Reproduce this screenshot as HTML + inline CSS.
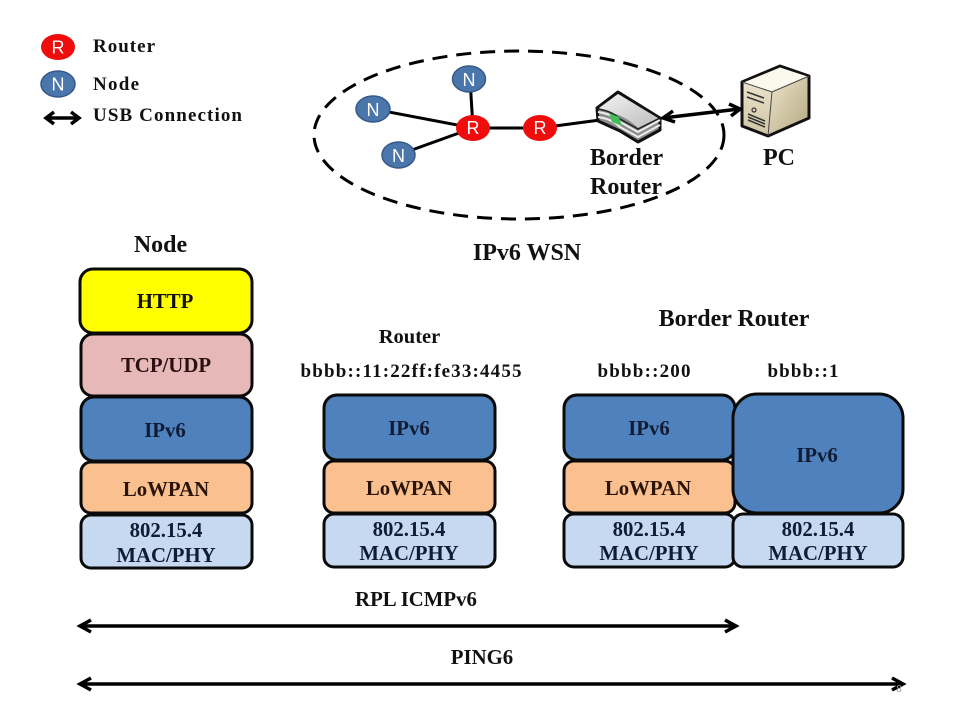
<!DOCTYPE html>
<html><head><meta charset="utf-8"><style>
html,body{margin:0;padding:0;background:#fff}
svg{display:block}
text{font-family:"Liberation Serif",serif;font-weight:bold;fill:#111;text-anchor:middle;font-size:20.8px}
.s{font-family:"Liberation Sans",sans-serif;font-weight:normal;fill:#fff;font-size:18px}
.d{fill:#101c35}
.b{stroke:#0a0a0a;stroke-width:3}
.l{text-anchor:start}
</style></head><body>
<svg width="960" height="720" viewBox="0 0 960 720" xmlns="http://www.w3.org/2000/svg">
<defs>
<linearGradient id="pcf" x1="0" y1="0" x2="0" y2="1"><stop offset="0" stop-color="#f2ecd8"/><stop offset="1" stop-color="#cfc5a3"/></linearGradient>
<linearGradient id="pcs" x1="0" y1="0" x2="1" y2="1"><stop offset="0" stop-color="#ece4cc"/><stop offset="1" stop-color="#b5a981"/></linearGradient>
<linearGradient id="rt" x1="0" y1="0" x2="1" y2="1"><stop offset="0" stop-color="#f4f4f4"/><stop offset="1" stop-color="#bcbcbc"/></linearGradient>
</defs>
<rect width="960" height="720" fill="#fff"/>
<!-- legend -->
<ellipse cx="58" cy="47" rx="17" ry="13" fill="#ee0c0c"/><text class="s" x="58" y="53.500">R</text>
<ellipse cx="58" cy="84" rx="17" ry="13" fill="#4a76ab" stroke="#36598a" stroke-width="1.500"/><text class="s" x="58" y="90.500">N</text>
<text class="l" x="93" y="52" style="font-size:19px" textLength="62" lengthAdjust="spacing">Router</text>
<text class="l" x="93" y="90" style="font-size:19px" textLength="46" lengthAdjust="spacing">Node</text>
<text class="l" x="93" y="121" style="font-size:19px" textLength="149" lengthAdjust="spacing">USB Connection</text>
<path d="M47 118H78M54 112L46 118L54 124M71 112L79 118L71 124" fill="none" stroke="#000" stroke-width="3.500"/>
<!-- WSN -->
<ellipse cx="519" cy="135" rx="205" ry="84" fill="none" stroke="#000" stroke-width="3" stroke-dasharray="15 9"/>
<g stroke="#000" stroke-width="3" fill="none">
<path d="M373 109L473 128M398 155L473 128M470 79L473 128M473 128H540M540 128L600 120"/>
</g>
<ellipse cx="469" cy="79" rx="16.500" ry="13" fill="#4a76ab" stroke="#36598a" stroke-width="1.500"/><text class="s" x="469" y="86">N</text>
<ellipse cx="373" cy="109" rx="17" ry="13" fill="#4a76ab" stroke="#36598a" stroke-width="1.500"/><text class="s" x="373" y="116">N</text>
<ellipse cx="398.500" cy="155" rx="16.500" ry="13" fill="#4a76ab" stroke="#36598a" stroke-width="1.500"/><text class="s" x="398.500" y="162">N</text>
<ellipse cx="473" cy="128" rx="17" ry="13" fill="#ee0c0c"/><text class="s" x="473" y="134">R</text>
<ellipse cx="540" cy="128" rx="17" ry="13" fill="#ee0c0c"/><text class="s" x="540" y="134">R</text>
<!-- border router icon -->
<path d="M597 108L618 92L660 118V130L638 142L620 131L598 121Z" fill="#8d8d8d" stroke="#111" stroke-width="3" stroke-linejoin="round"/>
<path d="M599 108L618 94L658 118L638 128Q625 115 610 113Z" fill="url(#rt)"/>
<path d="M598 112Q612 114 620 122L638 132L660 120M598 117Q612 119 620 127L638 137L660 125" fill="none" stroke="#eee" stroke-width="2"/>
<path d="M598 109Q612 111 620 119L638 129L660 118" fill="none" stroke="#222" stroke-width="1.500"/>
<path d="M609 113L619 117L622 126L612 122Z" fill="#3fbf55"/>
<!-- PC -->
<path d="M742 82L780 66L809 76V118L768 136L742 126Z" fill="url(#pcf)" stroke="#111" stroke-width="3" stroke-linejoin="round"/>
<path d="M743.500 82.500L780 67.500L807.500 76.500L772 91Z" fill="#fbf8ee"/>
<path d="M772 92L807.500 77V117L769 134Z" fill="url(#pcs)"/>
<path d="M742 82L772 92L809 76M772 92L768 136" fill="none" stroke="#444" stroke-width="1"/>
<path d="M747 92L764 98M747 97L764 103M748 117L765 124M748 120L765 127M748 114L765 121" stroke="#333" stroke-width="1.500" fill="none"/>
<circle cx="754" cy="110" r="2" fill="none" stroke="#333" stroke-width="1.200"/>
<!-- USB -->
<path d="M663 118L739 109M673 111L663 118L675 122M729 104L740 109L731 116" fill="none" stroke="#000" stroke-width="3.500"/>
<text x="626.500" y="165" style="font-size:24px">Border</text>
<text x="626" y="194" style="font-size:24px">Router</text>
<text x="779" y="165" style="font-size:24px">PC</text>
<text x="527" y="260" style="font-size:24px">IPv6 WSN</text>
<text x="160.500" y="252" style="font-size:24px">Node</text>
<text x="409.500" y="343" style="font-size:20.500px">Router</text>
<text x="734" y="326" style="font-size:24px">Border Router</text>
<text x="411" y="377" style="font-size:19px" textLength="221" lengthAdjust="spacing">bbbb::11:22ff:fe33:4455</text>
<text x="644" y="377" style="font-size:19px" textLength="93" lengthAdjust="spacing">bbbb::200</text>
<text x="803" y="377" style="font-size:19px" textLength="71" lengthAdjust="spacing">bbbb::1</text>
<!-- node stack -->
<rect class="b" x="80" y="269" width="172" height="64" rx="13" fill="#ffff00"/>
<rect class="b" x="81" y="334" width="171" height="62" rx="12" fill="#e6b8b7"/>
<rect class="b" x="81" y="397" width="171" height="64" rx="13" fill="#4f81bd"/>
<rect class="b" x="81" y="462" width="171" height="51" rx="10" fill="#fac090"/>
<rect class="b" x="81" y="515" width="171" height="53" rx="10" fill="#c6d9f1"/>
<text x="165" y="308">HTTP</text>
<text x="166" y="372" style="fill:#2a1010">TCP/UDP</text>
<text class="d" x="165" y="437">IPv6</text>
<text x="166" y="496" style="fill:#2a1408">LoWPAN</text>
<text class="d" x="166" y="537">802.15.4</text>
<text class="d" x="166" y="562">MAC/PHY</text>
<!-- router stack -->
<rect class="b" x="324" y="395" width="171" height="65" rx="13" fill="#4f81bd"/>
<rect class="b" x="324" y="461" width="171" height="52" rx="10" fill="#fac090"/>
<rect class="b" x="324" y="514" width="171" height="53" rx="10" fill="#c6d9f1"/>
<text class="d" x="409" y="435">IPv6</text>
<text x="409" y="495" style="fill:#2a1408">LoWPAN</text>
<text class="d" x="409" y="536">802.15.4</text>
<text class="d" x="409" y="560">MAC/PHY</text>
<!-- border router stack -->
<rect class="b" x="564" y="395" width="171" height="65" rx="13" fill="#4f81bd"/>
<rect class="b" x="564" y="461" width="171" height="52" rx="10" fill="#fac090"/>
<rect class="b" x="564" y="514" width="171" height="53" rx="10" fill="#c6d9f1"/>
<text class="d" x="649" y="435">IPv6</text>
<text x="648" y="495" style="fill:#2a1408">LoWPAN</text>
<text class="d" x="649" y="536">802.15.4</text>
<text class="d" x="649" y="560">MAC/PHY</text>
<rect class="b" x="733" y="394" width="170" height="119" rx="24" fill="#4f81bd"/>
<rect class="b" x="733" y="514" width="170" height="53" rx="10" fill="#c6d9f1"/>
<text class="d" x="817" y="462">IPv6</text>
<text class="d" x="818" y="536">802.15.4</text>
<text class="d" x="818" y="560">MAC/PHY</text>
<!-- bottom arrows -->
<text x="416" y="606">RPL ICMPv6</text>
<path d="M80 626H735M91 620L80 626L91 632M725 620L736 626L725 632" fill="none" stroke="#000" stroke-width="3.500"/>
<text x="482" y="664">PING6</text>
<path d="M80 684H902M91 678L80 684L91 690M892 678L903 684L892 690" fill="none" stroke="#000" stroke-width="3.500"/>
<text x="899" y="692" style="font-size:10px;font-weight:normal;fill:#999;font-family:'Liberation Sans',sans-serif">8</text>
</svg>
</body></html>
